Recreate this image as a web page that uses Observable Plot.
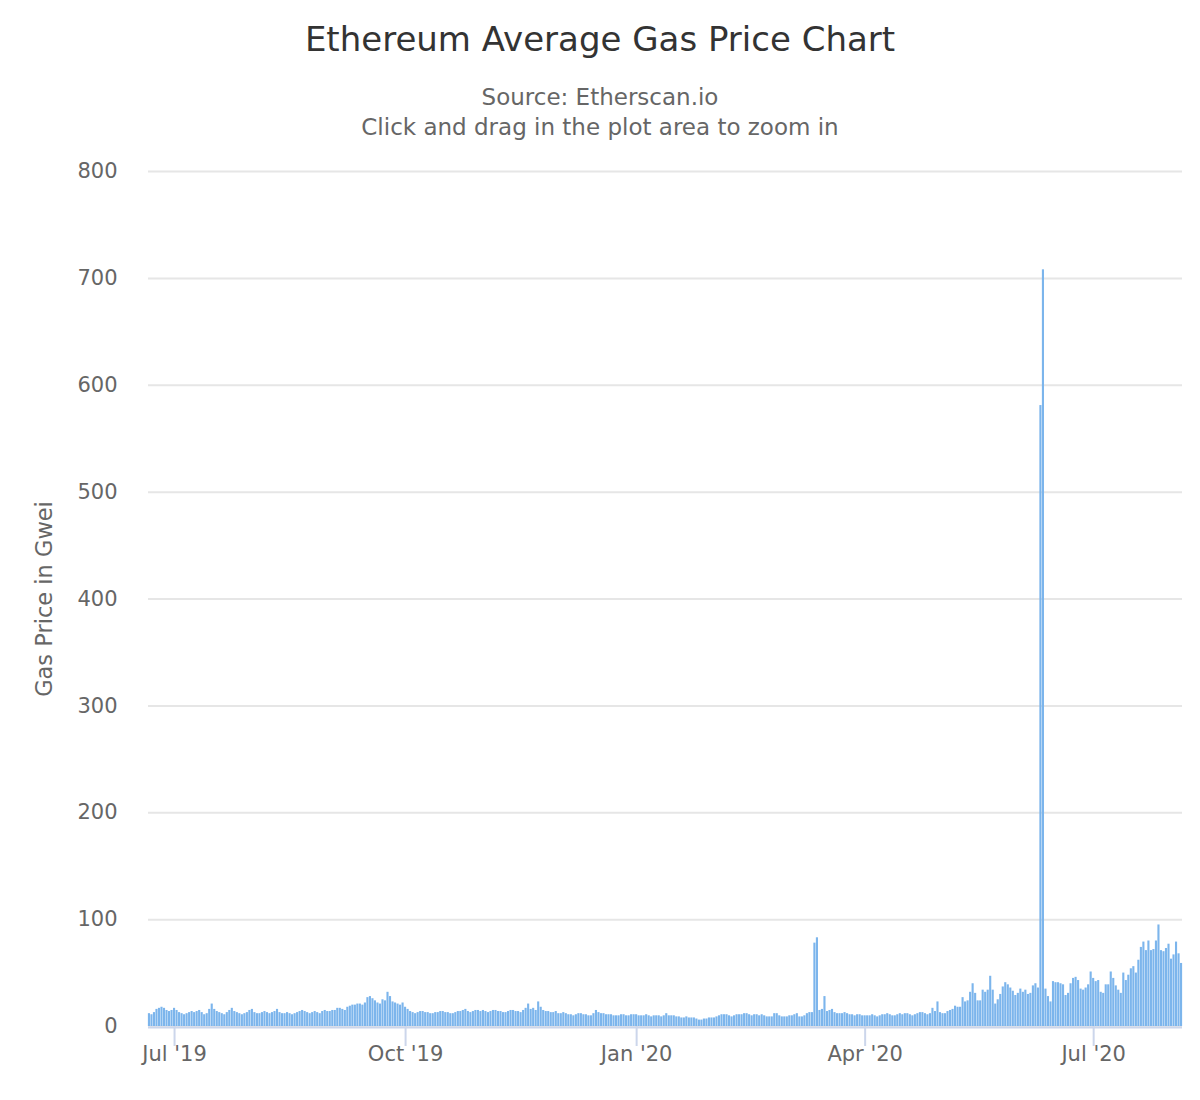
<!DOCTYPE html>
<html><head><meta charset="utf-8">
<script src="https://cdn.jsdelivr.net/npm/d3@7"></script>
<script src="https://cdn.jsdelivr.net/npm/@observablehq/plot@0.6"></script>
<style>
body{margin:0;background:#fff;font-family:"DejaVu Sans",sans-serif;}
#wrap{position:relative;width:1200px;height:1100px;}
#title{position:absolute;left:0;top:21px;width:1200px;text-align:center;font-size:34px;line-height:36px;color:#333333;}
#sub{position:absolute;left:0;top:82px;width:1200px;text-align:center;font-size:23px;line-height:30px;color:#666666;}
#chart{position:absolute;left:0;top:150px;}
</style></head><body>
<div id="wrap">
<div id="title">Ethereum Average Gas Price Chart</div>
<div id="sub">Source: Etherscan.io<br>Click and drag in the plot area to zoom in</div>
<div id="chart"></div>
</div>
<script>
// first day of each block of daily values
const monthStarts = ["2019-06-21","2019-07-01","2019-08-01","2019-09-01","2019-10-01","2019-11-01","2019-12-01",
  "2020-01-01","2020-02-01","2020-03-01","2020-04-01","2020-05-01","2020-06-01","2020-07-01","2020-08-01"];
// daily average gas price (Gwei)
const gas2019Jun = [12,11,13,16,17,18,17,15,14,15];
const gas2019Jul = [17,15,13,12,11,12,13,14,13,14,15,13,11,12,16,21,16,14,13,12,11,13,15,17,14,13,12,11,12,13,15];
const gas2019Aug = [16,13,12,12,13,14,13,12,13,14,16,13,12,12,13,12,11,12,13,14,15,14,13,12,13,14,13,12,14,15,14];
const gas2019Sep = [14,15,15,17,17,16,15,18,19,20,20,21,21,20,22,27,28,26,24,22,21,25,24,32,28,23,22,21,20,22];
const gas2019Oct = [18,16,14,13,12,13,14,14,13,13,12,12,13,13,14,14,13,13,12,12,13,14,14,15,16,14,13,14,15,15,14];
const gas2019Nov = [15,14,13,14,15,15,14,14,13,13,14,15,15,14,14,13,15,17,21,16,17,15,23,18,15,14,14,13,13,14];
const gas2019Dec = [12,12,13,12,11,11,10,11,12,12,11,11,10,10,12,15,13,12,12,11,11,11,10,10,10,11,11,10,10,11,11];
const gas2020Jan = [11,10,10,10,11,10,9,10,10,10,9,10,12,10,10,10,9,9,8,8,9,8,8,8,7,6,6,7,7,8,8];
const gas2020Feb = [8,9,10,11,11,11,10,9,10,11,11,11,12,12,11,10,11,11,10,11,10,9,9,9,12,12,10,9,9];
const gas2020Mar = [9,10,10,11,12,9,9,10,12,13,13,78,83,15,16,28,14,15,16,13,12,12,12,13,12,11,11,10,11,11,10];
const gas2020Apr = [10,10,10,11,10,9,10,11,11,12,11,10,10,11,12,11,12,12,11,10,11,12,13,13,12,11,12,17,14,23];
const gas2020May = [13,12,12,14,15,16,19,18,18,27,23,24,32,40,31,24,24,34,32,34,47,34,21,25,30,37,41,39,36,33,29];
const gas2020Jun = [31,35,32,34,30,31,38,40,36,581,708,35,28,23,42,41,41,40,39,29,31,40,45,46,43,35,34,36,39,51];
const gas2020Jul = [45,42,43,32,31,39,39,51,45,38,34,31,50,43,48,54,56,50,62,74,79,71,80,71,72,80,95,71,70,73,77];
const gas2020Aug = [63,67,79,68,59];
const blocks = [gas2019Jun,gas2019Jul,gas2019Aug,gas2019Sep,gas2019Oct,gas2019Nov,gas2019Dec,
  gas2020Jan,gas2020Feb,gas2020Mar,gas2020Apr,gas2020May,gas2020Jun,gas2020Jul,gas2020Aug];

const yTicks = [0,100,200,300,400,500,600,700,800];
const xTickDates = ["2019-07-01","2019-10-01","2020-01-01","2020-04-01","2020-07-01"];
const yTitle = "Gas Price in Gwei";

const data = [];
blocks.forEach((vals, m) => {
  const start = new Date(monthStarts[m]);
  vals.forEach((v, i) => data.push({date: d3.utcDay.offset(start, i), value: v}));
});
const H = 3600e3;
const first = data[0].date, last = data[data.length - 1].date;
const xTicks = xTickDates.map(d => new Date(d));

const chart = Plot.plot({
  width: 1200, height: 930,
  marginTop: 21, marginBottom: 54, marginLeft: 148, marginRight: 18,
  style: {fontFamily: "'DejaVu Sans', sans-serif", fontSize: "21px", background: "white", color: "#666666"},
  x: {type: "utc", domain: [new Date(+first - 9*H), new Date(+last + 9*H)], axis: null},
  y: {domain: [0, 800], axis: null},
  marks: [
    Plot.ruleY(yTicks, {stroke: "#e6e6e6", strokeWidth: 2}),
    Plot.rectY(data, {x1: d => new Date(+d.date - 12*H), x2: d => new Date(+d.date + 12*H), y: "value",
      fill: "#7cb5ec", insetLeft: 0.2, insetRight: 0.2}),
    Plot.ruleY([0], {stroke: "#ccd6eb", strokeWidth: 2, dy: 1}),
    Plot.axisX(xTicks, {tickSize: 20, tickPadding: 0, stroke: "#ccd6eb", strokeWidth: 2, fill: "#666666",
      fontSize: 21, tickFormat: d3.utcFormat("%b '%y"), label: null}),
    Plot.axisY(yTicks, {tickSize: 0, tickPadding: 31, fill: "#666666", fontSize: 21, label: null}),
    Plot.text([yTitle], {frameAnchor: "left", textAnchor: "middle", dx: -104, rotate: -90, fontSize: 22.5, fill: "#666666"})
  ]
});
document.getElementById("chart").appendChild(chart);
</script>
</body></html>
